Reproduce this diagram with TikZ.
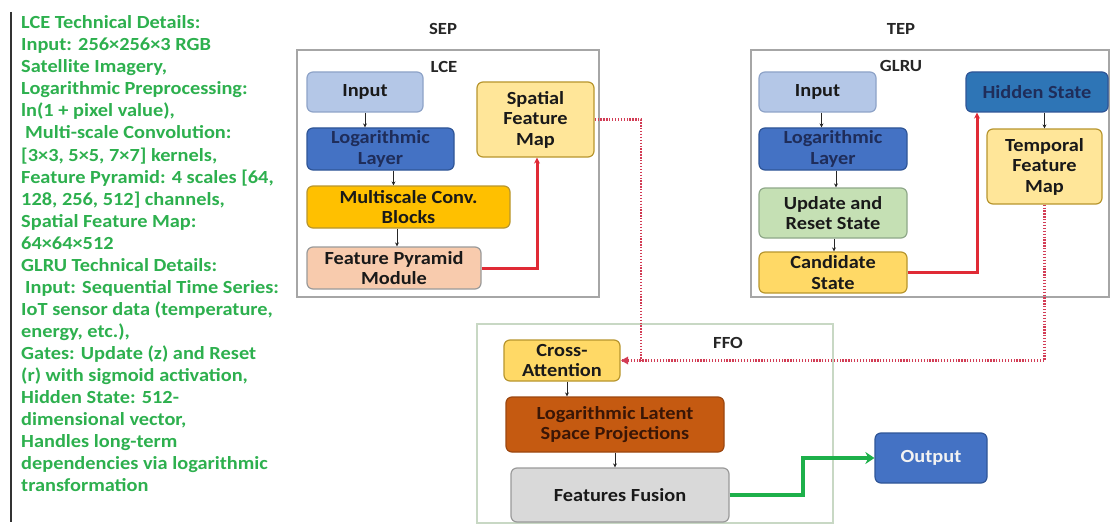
\documentclass[tikz,border=0pt]{standalone}
\usepackage{fontspec}
\setmainfont{Carlito}[FakeStretch=1.1]
\usetikzlibrary{arrows.meta}

\definecolor{notegreen}{HTML}{2DB04E}
\definecolor{inblue}{HTML}{B4C7E7}
\definecolor{inblueline}{HTML}{8EA3C8}
\definecolor{logblue}{HTML}{4472C4}
\definecolor{logblueline}{HTML}{2F5597}
\definecolor{navytext}{HTML}{1F2D5A}
\definecolor{convgold}{HTML}{FFC000}
\definecolor{goldline}{HTML}{B8962E}
\definecolor{pyrpeach}{HTML}{F8CBAD}
\definecolor{greyline}{HTML}{9A9A9A}
\definecolor{mapyellow}{HTML}{FFE699}
\definecolor{candyellow}{HTML}{FFD966}
\definecolor{gatesgreen}{HTML}{C5E0B4}
\definecolor{gatesline}{HTML}{8FA889}
\definecolor{hidblue}{HTML}{2E75B6}
\definecolor{latorange}{HTML}{C55A11}
\definecolor{latline}{HTML}{9C4710}
\definecolor{brownText}{HTML}{3A1606}
\definecolor{fusgrey}{HTML}{D9D9D9}
\definecolor{framegrey}{HTML}{A6A6A6}
\definecolor{ffoframe}{HTML}{C8D8C4}
\definecolor{flowred}{HTML}{E02A35}
\definecolor{dotred}{HTML}{D23C55}
\definecolor{flowgreen}{HTML}{1DB04A}
\definecolor{outwhite}{HTML}{F2F2F2}

\tikzset{
  blockbox/.style={rounded corners=6pt, line width=1.2pt, align=center,
    inner sep=0pt, font=\bfseries\fontsize{18.5}{20.5}\selectfont, text=black!90},
  frame/.style={draw=framegrey, line width=1.3pt},
  tag/.style={font=\bfseries\fontsize{17}{18}\selectfont, text=black!85, inner sep=0pt},
  note/.style={anchor=base west, inner sep=0pt, text=notegreen,
    font=\bfseries\fontsize{18.5}{20.5}\selectfont},
  smallarrow/.style={draw=black!85, line width=0.8pt,
    -{Stealth[length=4pt,width=4pt]}},
  redarrow/.style={draw=flowred, line width=3pt,
    -{Stealth[length=6pt,width=6pt]}},
  reddots/.style={draw=dotred, line width=2.6pt, dash pattern=on 1.3pt off 1.6pt},
  greenarrow/.style={draw=flowgreen, line width=4pt,
    -{Stealth[length=9pt,width=12pt]}}
}

\begin{document}
\begin{tikzpicture}[x=1pt,y=-1pt]
\useasboundingbox (0,0) rectangle (1110,524);
\fill[white] (0,0) rectangle (1110,524);

% ---- technical notes on the left ----
\draw[black!80, line width=2pt] (10.5,12) -- (10.5,522);
\foreach \t [count=\i] in {
  {LCE Technical Details:},
  {Input: 256×256×3 RGB},
  {Satellite Imagery,},
  {Logarithmic Preprocessing:},
  {ln(1 + pixel value),},
  {\hspace{4pt}Multi-scale Convolution:},
  {[3×3, 5×5, 7×7] kernels,},
  {Feature Pyramid: 4 scales [64,},
  {128, 256, 512] channels,},
  {Spatial Feature Map:},
  {64×64×512},
  {GLRU Technical Details:},
  {\hspace{4pt}Input: Sequential Time Series:},
  {IoT sensor data (temperature,},
  {energy, etc.),},
  {Gates: Update (z) and Reset},
  {(r) with sigmoid activation,},
  {Hidden State: 512-},
  {dimensional vector,},
  {Handles long-term},
  {dependencies via logarithmic},
  {transformation}}
  \node[note] (note\i) at (21,{29+22*(\i-1)}) {\t};

% ---- SEP / LCE ----
\draw[frame] (297,50) rectangle (599,297);
\node[tag] (sep) at (443,29) {SEP};
\node[tag] (lce) at (444,67) {LCE};
\node[blockbox, fill=inblue, draw=inblueline, minimum width=116pt, minimum height=40pt]
  (in1) at (365,92) {Input};
\node[blockbox, fill=logblue, draw=logblueline, text=navytext, minimum width=147pt, minimum height=42pt]
  (log1) at (380.5,149) {Logarithmic\\Layer};
\node[blockbox, fill=convgold, draw=goldline, minimum width=203pt, minimum height=42pt]
  (mul1) at (408.5,207) {Multiscale Conv.\\Blocks};
\node[blockbox, fill=pyrpeach, draw=greyline, minimum width=174pt, minimum height=42pt]
  (fpm) at (394,268) {Feature Pyramid\\Module};
\node[blockbox, fill=mapyellow, draw=goldline, minimum width=117pt, minimum height=75pt]
  (spat) at (535.5,119.5) {Spatial\\Feature\\Map};

% ---- TEP / GLRU ----
\draw[frame] (751,50) -- (1109,50) -- (1109,297) -- (751,297) -- cycle;
\node[tag] (tep) at (901,29) {TEP};
\node[tag] (glru) at (901,66) {GLRU};
\node[blockbox, fill=inblue, draw=inblueline, minimum width=117pt, minimum height=40pt]
  (in2) at (817.5,92) {Input};
\node[blockbox, fill=logblue, draw=logblueline, text=navytext, minimum width=148pt, minimum height=42pt]
  (log2) at (833,149) {Logarithmic\\Layer};
\node[blockbox, fill=gatesgreen, draw=gatesline, minimum width=148pt, minimum height=50pt]
  (upd) at (833,213) {Update and\\Reset State};
\node[blockbox, fill=candyellow, draw=goldline, minimum width=148pt, minimum height=41pt]
  (cand) at (833,272.5) {Candidate\\State};
\node[blockbox, fill=hidblue, draw=logblueline, text=navytext, minimum width=142pt, minimum height=40pt]
  (hid) at (1037,92) {Hidden State};
\node[blockbox, fill=mapyellow, draw=goldline, minimum width=115pt, minimum height=75pt]
  (temp) at (1044.5,166.5) {Temporal\\Feature\\Map};

% ---- FFO ----
\draw[draw=ffoframe, line width=1.3pt] (477,324) rectangle (833,523);
\node[tag] (ffo) at (728,343) {FFO};
\node[blockbox, fill=candyellow, draw=goldline, minimum width=116pt, minimum height=41pt]
  (cross) at (562,360.5) {Cross-\\Attention};
\node[blockbox, fill=latorange, draw=latline, text=brownText, minimum width=218pt, minimum height=55pt]
  (lat) at (615,424.5) {Logarithmic Latent\\Space Projections};
\node[blockbox, fill=fusgrey, draw=greyline, minimum width=218pt, minimum height=54pt]
  (fus) at (620,495) {Features Fusion};
\node[blockbox, fill=logblue, draw=logblueline, text=outwhite, minimum width=112pt, minimum height=50pt]
  (out) at (931,458) {Output};

% ---- flow inside the blocks ----
\draw[smallarrow] (in1.south) -- (in1.south |- log1.north);
\draw[smallarrow] ([xshift=13pt]log1.south) -- ([xshift=13pt]log1.south |- mul1.north);
\draw[smallarrow] ([xshift=3pt]fpm.north |- mul1.south) -- ([xshift=3pt]fpm.north);
\draw[smallarrow] ([xshift=4pt]in2.south) -- ([xshift=4pt]in2.south |- log2.north);
\draw[smallarrow] ([xshift=3pt]log2.south) -- ([xshift=3pt]log2.south |- upd.north);
\draw[smallarrow] ([xshift=1pt]upd.south) -- ([xshift=1pt]upd.south |- cand.north);
\draw[smallarrow] (temp.north |- hid.south) -- (temp.north);
\draw[smallarrow] ([xshift=5pt]cross.south) -- ([xshift=5pt]cross.south |- lat.north);
\draw[smallarrow] (lat.south) -- (lat.south |- fus.north);

% ---- red links ----
\draw[redarrow] (fpm.east) -| ([xshift=1.5pt]spat.south);
\draw[redarrow] (cand.east) -| ([xshift=-60pt]hid.south);

% ---- dotted feature links into cross-attention ----
\coordinate (sjoin) at (641,0);
\draw[reddots] (spat.east) -| (sjoin |- cross.east);
\draw[reddots] (temp.south) |- (cross.east);
\draw[draw=none, fill=dotred] ([xshift=0.5pt]cross.east) -- ++(7,-4) -- ++(0,8) -- cycle;

% ---- fused output ----
\coordinate (gjoin) at (803,0);
\draw[greenarrow] (fus.east) -| (gjoin |- out.west) -- (out.west);
\end{tikzpicture}
\end{document}
